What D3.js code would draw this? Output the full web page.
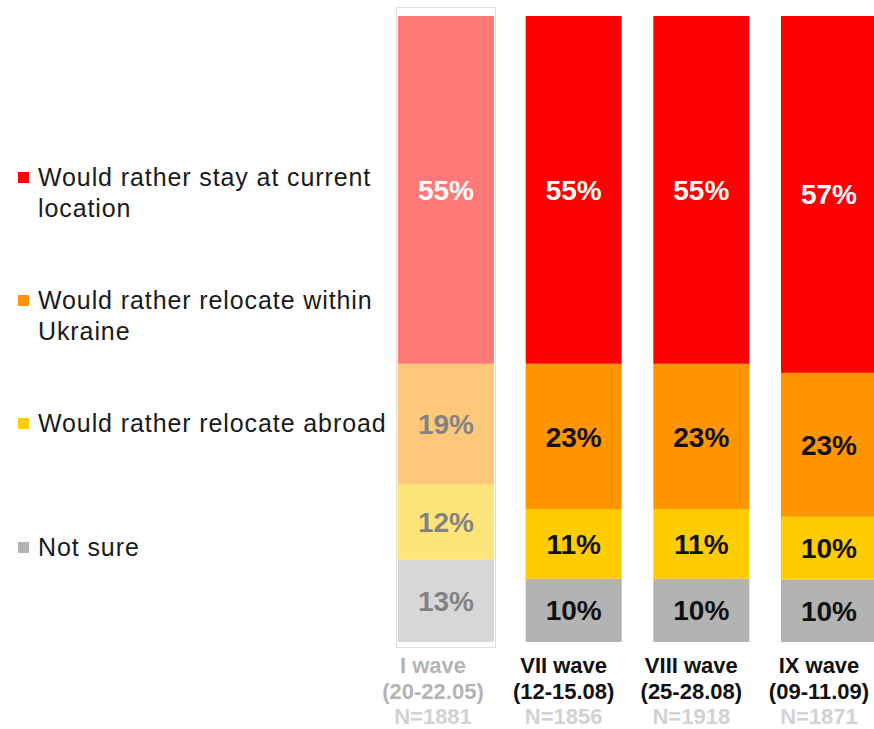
<!DOCTYPE html>
<html>
<head>
<meta charset="utf-8">
<script src="https://cdn.jsdelivr.net/npm/d3@7/dist/d3.min.js"></script>
<style>
  html, body { margin: 0; padding: 0; background: #fff; }
  svg { display: block; }
  text { font-family: "Liberation Sans", Arial, Helvetica, sans-serif; }
</style>
</head>
<body>
<svg id="chart" width="874" height="729"></svg>
<script>
// Survey waves
const waves = ["I wave", "VII wave", "VIII wave", "IX wave"];
const waveDates = ["(20-22.05)", "(12-15.08)", "(25-28.08)", "(09-11.09)"];
const sampleSizes = ["N=1881", "N=1856", "N=1918", "N=1871"];

// Answer shares, %
const stayValues = [55, 55, 55, 57];
const withinValues = [19, 23, 23, 23];
const abroadValues = [12, 11, 11, 10];
const notSureValues = [13, 10, 10, 10];

const seriesNames = [
  "Would rather stay at current location",
  "Would rather relocate within Ukraine",
  "Would rather relocate abroad",
  "Not sure"
];
const legendLines = [
  ["Would rather stay at current", "location"],
  ["Would rather relocate within", "Ukraine"],
  ["Would rather relocate abroad"],
  ["Not sure"]
];
const seriesColors = ["#ff0000", "#ff9500", "#ffcc00", "#b3b3b3"];
const labelColors = ["#ffffff", "#111111", "#111111", "#111111"];

const svg = d3.select("#chart");

// rows for the stack: one per wave
const keys = ["notSure", "abroad", "within", "stay"];
const rows = waves.map((w, i) => {
  const total = stayValues[i] + withinValues[i] + abroadValues[i] + notSureValues[i];
  return {
    wave: w, index: i, total,
    stay: stayValues[i], within: withinValues[i],
    abroad: abroadValues[i], notSure: notSureValues[i]
  };
});
const normRows = rows.map(r => {
  const o = { wave: r.wave, index: r.index };
  keys.forEach(k => o[k] = r[k] / r.total);
  return o;
});
const stacked = d3.stack().keys(keys)(normRows);

const x = d3.scaleBand().domain(waves).range([398, 877]).paddingInner(0.248).paddingOuter(0);
const y = d3.scaleLinear().domain([0, 1]).range([642, 16]);

const keyToSeries = { stay: 0, within: 1, abroad: 2, notSure: 3 };

// frame around the first wave
svg.append("rect")
  .attr("x", x(waves[0]) - 1.5)
  .attr("y", y(1) - 8.5)
  .attr("width", x.bandwidth() + 3)
  .attr("height", y(0) - y(1) + 14)
  .attr("fill", "none")
  .attr("stroke", "#dddddd")
  .attr("stroke-width", 1);

const barGroups = svg.append("g").selectAll("g")
  .data(waves)
  .join("g")
  .attr("opacity", (d, i) => i === 0 ? 0.52 : 1);

barGroups.each(function(w, wi) {
  const g = d3.select(this);
  stacked.forEach(layer => {
    const si = keyToSeries[layer.key];
    const seg = layer[wi];
    g.append("rect")
      .attr("x", x(w))
      .attr("width", x.bandwidth())
      .attr("y", y(seg[1]))
      .attr("height", y(seg[0]) - y(seg[1]))
      .attr("fill", seriesColors[si]);
    g.append("text")
      .attr("x", x(w) + x.bandwidth() / 2)
      .attr("y", (y(seg[0]) + y(seg[1])) / 2)
      .attr("dy", "0.36em")
      .attr("text-anchor", "middle")
      .attr("font-size", 28)
      .attr("font-weight", "bold")
      .attr("fill", labelColors[si])
      .text(rows[wi][layer.key] + "%");
  });
});

// category labels under the bars
const catG = svg.append("g");
waves.forEach((w, i) => {
  const cx = x(w) + x.bandwidth() / 2 - (i === 0 ? 13 : 10);
  const faded = i === 0;
  catG.append("text")
    .attr("x", cx).attr("y", 673)
    .attr("text-anchor", "middle")
    .attr("font-size", 22).attr("font-weight", "bold")
    .attr("fill", faded ? "#b4b4b4" : "#111")
    .text(w);
  catG.append("text")
    .attr("x", cx).attr("y", 699)
    .attr("text-anchor", "middle")
    .attr("font-size", 22).attr("font-weight", "bold")
    .attr("fill", faded ? "#b4b4b4" : "#111")
    .text(waveDates[i]);
  catG.append("text")
    .attr("x", cx).attr("y", 724)
    .attr("text-anchor", "middle")
    .attr("font-size", 22).attr("font-weight", "bold")
    .attr("fill", "#d2d2d2")
    .text(sampleSizes[i]);
});

// legend
const legendY = [177, 300, 423, 547];
const legend = svg.append("g");
seriesNames.forEach((name, i) => {
  const item = legend.append("g").attr("transform", `translate(18,${legendY[i]})`);
  item.append("rect")
    .attr("x", 0).attr("y", -5)
    .attr("width", 11).attr("height", 11)
    .attr("fill", seriesColors[i]);
  legendLines[i].forEach((line, li) => {
    item.append("text")
      .attr("x", 20).attr("y", li * 31)
      .attr("dy", "0.35em")
      .attr("font-size", 25)
      .attr("letter-spacing", "0.9px")
      .attr("fill", "#1a1a1a")
      .text(line);
  });
});
</script>
</body>
</html>
